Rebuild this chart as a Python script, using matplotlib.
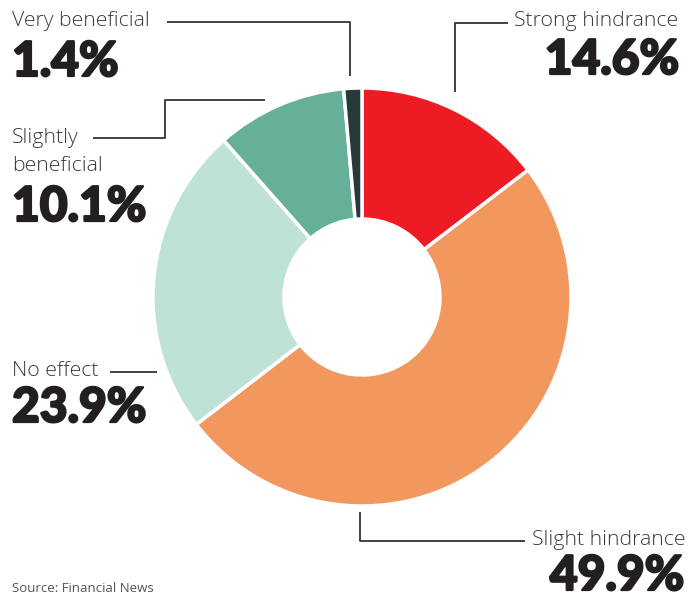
import matplotlib.pyplot as plt
import matplotlib.patheffects as pe

# survey shares, clockwise from 12 o'clock
categories = ["Strong hindrance", "Slight hindrance", "No effect",
              "Slightly beneficial", "Very beneficial"]
shares = [14.6, 49.9, 23.9, 10.1, 1.4]
colors = ["#ED1C24", "#F2975E", "#BEE3D6", "#66B09A", "#263A3C"]

W, H = 688, 599
fig = plt.figure(figsize=(W / 100, H / 100), dpi=100)
ax = fig.add_axes([0, 0, 1, 1])

cx, cy, r_out, r_in = 362, 297, 209, 78

# y axis is flipped below, so counterclock=True ends up clockwise on screen
ax.pie(shares, colors=colors, startangle=-90, counterclock=True,
       center=(cx, cy), radius=r_out, frame=True,
       wedgeprops=dict(width=r_out - r_in, edgecolor="white", linewidth=2.5))
ax.set_xlim(0, W)
ax.set_ylim(H, 0)
ax.set_aspect("equal")
ax.axis("off")

line_kw = dict(color="#333333", lw=1.3, solid_capstyle="butt")
lab_kw = dict(family=["Open Sans", "DejaVu Sans"], fontweight="light",
              fontsize=15.3, color="#3a3a3a", va="center")
num_kw = dict(family=["Lato", "DejaVu Sans"], fontweight="black",
              fontsize=34.5, color="#231F20", va="center",
              path_effects=[pe.withStroke(linewidth=1.6, foreground="#231F20")])


def fmt(v):
    return f"{v:.1f}%"


# Very beneficial
ax.plot([167, 350, 350], [22, 22, 76], **line_kw)
ax.text(12, 21, categories[4], ha="left", **lab_kw)
ax.text(12, 62, fmt(shares[4]), ha="left", **num_kw)

# Slightly beneficial (label split over two lines)
ax.plot([93, 165, 165, 265], [138, 138, 100, 100], **line_kw)
ax.text(12, 138, "Slightly", ha="left", **lab_kw)
ax.text(12, 166, "beneficial", ha="left", **lab_kw)
ax.text(12, 207, fmt(shares[3]), ha="left", **num_kw)

# No effect
ax.plot([110, 157], [372, 372], **line_kw)
ax.text(12, 371, categories[2], ha="left", **lab_kw)
ax.text(12, 408, fmt(shares[2]), ha="left", **num_kw)

# Strong hindrance
ax.plot([508, 455, 455], [23, 23, 92], **line_kw)
ax.text(678, 21, categories[0], ha="right", **lab_kw)
ax.text(679, 60, fmt(shares[0]), ha="right", **num_kw)

# Slight hindrance
ax.plot([360, 360, 525], [512, 541, 541], **line_kw)
ax.text(685, 540, categories[1], ha="right", **lab_kw)
ax.text(684, 576, fmt(shares[1]), ha="right", **num_kw)

ax.text(12, 589, "Source: Financial News", ha="left", va="center",
        family=["Open Sans", "DejaVu Sans"], fontsize=9.5, color="#555555")

fig.savefig("out.png", dpi=100)
